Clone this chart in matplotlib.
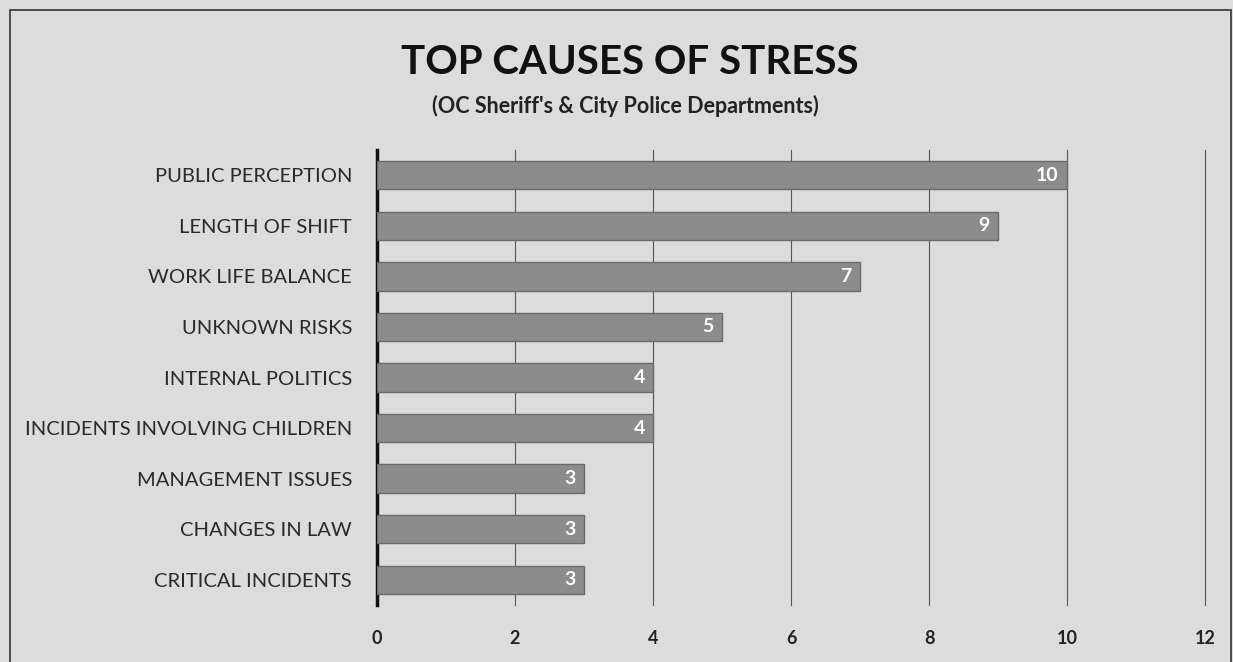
import matplotlib.pyplot as plt
from matplotlib.patches import Rectangle

# data
causes = ['PUBLIC PERCEPTION', 'LENGTH OF SHIFT', 'WORK LIFE BALANCE', 'UNKNOWN RISKS',
          'INTERNAL POLITICS', 'INCIDENTS INVOLVING CHILDREN', 'MANAGEMENT ISSUES',
          'CHANGES IN LAW', 'CRITICAL INCIDENTS']
counts = [10, 9, 7, 5, 4, 4, 3, 3, 3]
xticks = [0, 2, 4, 6, 8, 10, 12]

plt.rcParams['font.family'] = ['Lato', 'DejaVu Sans']

fig = plt.figure(figsize=(12.33, 6.62), dpi=100)
fig.patch.set_facecolor('#dcdcdc')
# scanned frame
fig.add_artist(Rectangle((0.008, -0.01), 0.99, 0.995, transform=fig.transFigure,
                         fill=False, edgecolor='#333333', linewidth=1.2))

ax = fig.add_axes([0.3058, 0.0861, 0.6715, 0.6873])
ax.set_facecolor('none')

y = range(len(causes))
ax.barh(y, counts, height=0.56, color='#8c8c8c', edgecolor='#6a6a6a', linewidth=1, zorder=3)
for yi, v in zip(y, counts):
    ax.text(v - 0.12, yi, str(v), ha='right', va='center', color='white',
            fontsize=14, fontweight='bold', zorder=4)

ax.set_xlim(0, 12)
ax.set_ylim(8.5, -0.5)
ax.set_yticks(list(y))
ax.set_yticklabels(causes, fontsize=14.5, color='#2a2a2a')
ax.set_xticks(xticks)
ax.set_xticklabels([str(t) for t in xticks], fontsize=13, color='#222222', fontweight='bold')
ax.tick_params(axis='both', length=0)
ax.tick_params(axis='y', pad=18)
ax.tick_params(axis='x', pad=18)
for t in xticks[1:]:
    ax.axvline(t, color='#555555', linewidth=0.8, zorder=0, clip_on=False)
for s in ['top', 'right', 'bottom']:
    ax.spines[s].set_visible(False)
ax.spines['left'].set_linewidth(2.5)
ax.spines['left'].set_color('#111111')

fig.text(0.511, 0.905, 'TOP CAUSES OF STRESS', ha='center', va='center',
         fontsize=29, fontweight='bold', color='#111111')
fig.text(0.507, 0.84, "(OC Sheriff's & City Police Departments)", ha='center', va='center',
         fontsize=15.5, fontweight='bold', color='#222222')

fig.savefig('out.png', dpi=100, facecolor=fig.get_facecolor())
